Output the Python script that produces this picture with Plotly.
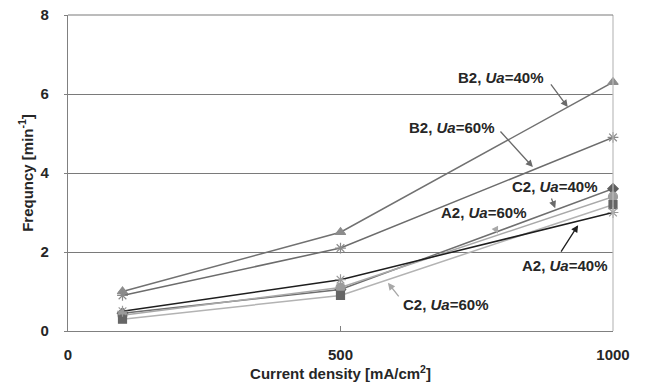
import plotly.graph_objects as go

current_density = [100, 500, 1000]
b2_ua40 = [1.0, 2.5, 6.3]
b2_ua60 = [0.9, 2.1, 4.9]
a2_ua40 = [0.5, 1.3, 3.0]
a2_ua60 = [0.4, 1.1, 3.4]
c2_ua40 = [0.45, 1.05, 3.6]
c2_ua60 = [0.3, 0.9, 3.2]

x_ticks = [0, 500, 1000]
y_ticks = [0, 2, 4, 6, 8]

FONT = "Liberation Sans, Arial, sans-serif"

series = [
    ("B2, Ua=40%", b2_ua40, "#717171", "#8c8c8c", "triangle-up", 9),
    ("B2, Ua=60%", b2_ua60, "#6c6c6c", "#8a8a8a", "asterisk-open", 9),
    ("C2, Ua=40%", c2_ua40, "#6e6e6e", "#5e5e5e", "diamond", 8),
    ("A2, Ua=60%", a2_ua60, "#a9a9a9", "#9c9c9c", "circle", 9),
    ("C2, Ua=60%", c2_ua60, "#b3b3b3", "#666666", "square", 8),
    ("A2, Ua=40%", a2_ua40, "#1e1e1e", "#9a9a9a", "asterisk-open", 9),
]

fig = go.Figure()
for name, ys, lc, mc, sym, sz in series:
    fig.add_trace(go.Scatter(
        x=current_density, y=ys, mode="lines+markers", name=name,
        line=dict(color=lc, width=1.5),
        marker=dict(symbol=sym, size=sz, color=mc, line=dict(color=mc, width=1.2)),
        showlegend=False, cliponaxis=False,
    ))

# label annotations: (cell, ua, text_x, text_y, tail_x, tail_y, tip_x, tip_y, arrow color)
labels = [
    ("B2", "40%", 794, 6.41, 884, 6.28, 917, 5.67, "#6a6a6a"),
    ("B2", "60%", 705, 5.14, 791, 5.09, 853, 4.15, "#6a6a6a"),
    ("C2", "40%", 894, 3.65, 886, 3.39, 894, 3.11, "#6a6a6a"),
    ("A2", "60%", 763, 2.99, 783, 2.63, 789, 2.46, "#a8a8a8"),
    ("A2", "40%", 912, 1.67, 903, 1.97, 936, 2.68, "#1e1e1e"),
    ("C2", "60%", 694, 0.66, 609, 0.84, 587, 1.22, "#a8a8a8"),
]
for cell, ua, tx, ty, ax, ay, px, py, ac in labels:
    fig.add_annotation(
        x=tx, y=ty, xref="x", yref="y", showarrow=False,
        text=f"<b>{cell}, <i>Ua</i>={ua}</b>",
        font=dict(family=FONT, size=15, color="#262626"),
    )
    fig.add_annotation(
        x=px, y=py, ax=ax, ay=ay, xref="x", yref="y", axref="x", ayref="y",
        text="", showarrow=True, arrowhead=2, arrowsize=1.1, arrowwidth=1.3,
        arrowcolor=ac,
    )

fig.update_layout(
    width=646, height=388,
    margin=dict(l=68, r=33, t=15, b=57),
    paper_bgcolor="white", plot_bgcolor="white",
    font=dict(family=FONT, color="#262626"),
    shapes=[
        dict(type="line", xref="paper", yref="paper", x0=1, x1=1, y0=0, y1=1,
             line=dict(color="#bdbdbd", width=1.2)),
        dict(type="line", xref="paper", yref="paper", x0=0, x1=1, y0=1, y1=1,
             line=dict(color="#7a7a7a", width=1.2)),
    ],
)
fig.update_xaxes(
    range=[0, 1000], tickvals=x_ticks, ticktext=[str(v) for v in x_ticks],
    showgrid=False, zeroline=False, automargin=False,
    showline=True, linecolor="#808080", linewidth=1.3,
    ticks="inside", ticklen=5, tickcolor="#808080",
    ticklabelstandoff=10,
    tickfont=dict(family=FONT, size=15, color="#262626", weight="bold"),
    title=dict(text="<b>Current density [mA/cm<sup>2</sup>]</b>",
               font=dict(family=FONT, size=15, color="#262626"), standoff=4),
)
fig.update_yaxes(
    range=[0, 8], tickvals=y_ticks, ticktext=[str(v) for v in y_ticks],
    showgrid=True, gridcolor="#7a7a7a", gridwidth=1.2, zeroline=False,
    automargin=False,
    showline=True, linecolor="#808080", linewidth=1.3,
    ticks="outside", ticklen=3, tickcolor="#808080",
    ticklabelstandoff=12,
    tickfont=dict(family=FONT, size=15, color="#262626", weight="bold"),
    title=dict(text="<b>Frequncy [min<sup>-1</sup>]</b>",
               font=dict(family=FONT, size=15, color="#262626"), standoff=3),
)

fig.write_html(
    "out.html",
    config={"displayModeBar": False},
    post_script="document.body.style.margin='0';document.body.style.overflow='hidden';",
)
